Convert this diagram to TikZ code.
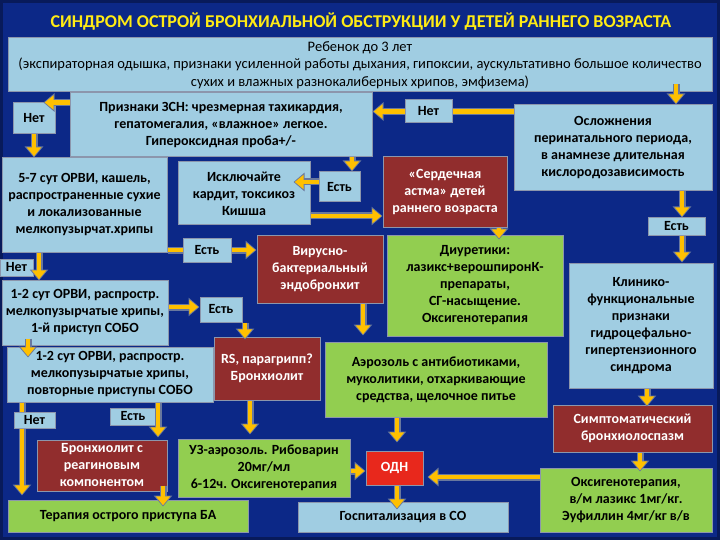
\documentclass[tikz,border=0pt]{standalone}
\usepackage{fontspec}
\setmainfont{Carlito}
\usetikzlibrary{arrows.meta,calc}
\definecolor{bg}{RGB}{12,40,135}
\definecolor{bgdark}{RGB}{8,26,90}
\definecolor{lb}{RGB}{160,205,226}
\definecolor{dr}{RGB}{145,45,45}
\definecolor{gr}{RGB}{146,206,80}
\definecolor{rd}{RGB}{232,40,28}
\definecolor{ay}{RGB}{255,192,0}
\definecolor{ae}{RGB}{105,120,158}
\definecolor{ttl}{RGB}{255,235,20}
\definecolor{edge}{RGB}{140,150,172}
\newcommand\mkbox[7]{\node[#2, minimum width={(#5-#3)*1pt}, minimum height={(#6-#4)*1pt}] (#1) at ({(#3+#5)/2},{(#4+#6)/2}) {#7};}
\begin{document}
\begin{tikzpicture}[x=1pt,y=-1pt,
 box/.style={draw=edge, line width=1pt, inner sep=0pt, align=center, font=\fontsize{14}{17}\selectfont\bfseries},
 lbox/.style={box, fill=lb, text=black},
 rbox/.style={box, fill=dr, text=white},
 gbox/.style={box, fill=gr, text=black},
 obox/.style={box, fill=rd, text=white},
 arr/.style={draw=ae, line width=7pt, -{Triangle[width=18pt,length=11pt]},
   postaction={draw=ay, line width=4.6pt, -{Triangle[width=14pt,length=9pt]}, shorten >=1.2pt}}]
\useasboundingbox (0,0) rectangle (720,540);
\fill[bg] (0,0) rectangle (720,540);
\draw[bgdark, line width=6pt] (0,0) rectangle (720,540);
% title
\node[font=\fontsize{18}{20}\selectfont\bfseries, text=ttl] (title) at (361,22) {СИНДРОМ ОСТРОЙ БРОНХИАЛЬНОЙ ОБСТРУКЦИИ У ДЕТЕЙ РАННЕГО ВОЗРАСТА};
% boxes
\mkbox{top}{lbox, font=\fontsize{14.5}{17.5}\selectfont}{8}{38}{712}{92}{Ребенок до 3 лет\\(экспираторная одышка, признаки усиленной работы дыхания, гипоксии, аускультативно большое количество\\сухих и влажных разнокалиберных хрипов, эмфизема)}
\mkbox{no1}{lbox}{13}{103}{55}{134}{Нет}
\mkbox{zsn}{lbox}{70}{93}{372}{157}{Признаки ЗСН: чрезмерная тахикардия,\\гепатомегалия, «влажное» легкое.\\Гипероксидная проба+/-}
\mkbox{osl}{lbox}{514}{105}{712}{191}{Осложнения\\перинатального периода,\\в анамнезе длительная\\кислородозависимость}
\mkbox{yes1}{lbox}{648}{218}{705}{235}{Есть}
\mkbox{s57}{lbox}{2}{158}{167}{252}{5-7 сут ОРВИ, кашель,\\распространенные сухие\\и локализованные\\мелкопузырчат.хрипы}
\mkbox{iskl}{lbox}{178}{162}{310}{225}{Исключайте\\кардит, токсикоз\\Кишша}
\mkbox{yes2}{lbox}{319}{172}{360}{202}{Есть}
\mkbox{serd}{rbox}{383}{157}{507}{228}{«Сердечная\\астма» детей\\раннего возраста}
\mkbox{diur}{gbox}{387}{235}{563}{336}{Диуретики:\\лазикс+верошпиронК-\\препараты,\\СГ-насыщение.\\Оксигенотерапия}
\mkbox{vir}{rbox}{257}{235}{383}{303}{Вирусно-\\бактериальный\\эндобронхит}
\mkbox{no3}{lbox}{0}{259}{33}{276}{Нет}
\mkbox{s12a}{lbox}{2}{280}{168}{345}{1-2 сут ОРВИ, распростр.\\мелкопузырчатые хрипы,\\1-й приступ СОБО}
\mkbox{yes4}{lbox}{200}{297}{242}{322}{Есть}
\mkbox{s12b}{lbox}{7}{347}{213}{402}{1-2 сут ОРВИ, распростр.\\мелкопузырчатые хрипы,\\повторные приступы СОБО}
\mkbox{rs}{rbox}{214}{337}{320}{400}{RS, парагрипп?\\Бронхиолит}
\mkbox{aer}{gbox}{325}{342}{547}{417}{Аэрозоль с антибиотиками,\\муколитики, отхаркивающие\\средства, щелочное питье}
\mkbox{klin}{lbox}{569}{263}{713}{388}{Клинико-\\функциональные\\признаки\\гидроцефально-\\гипертензионного\\синдрома}
\mkbox{symp}{rbox}{553}{405}{712}{452}{Симптоматический\\бронхиолоспазм}
\mkbox{oxy}{gbox}{540}{468}{712}{532}{Оксигенотерапия,\\в/м лазикс 1мг/кг.\\Эуфиллин 4мг/кг в/в}
\mkbox{odn}{obox}{366}{451}{423}{485}{ОДН}
\mkbox{gosp}{lbox}{298}{502}{508}{532}{Госпитализация в СО}
\mkbox{uz}{gbox}{178}{439}{350}{497}{УЗ-аэрозоль. Рибоварин\\20мг/мл\\6-12ч. Оксигенотерапия}
\mkbox{bron}{rbox}{37}{440}{167}{491}{Бронхиолит с\\реагиновым\\компонентом}
\mkbox{ter}{gbox}{8}{500}{248}{532}{Терапия острого приступа БА}
\mkbox{yes5}{lbox}{110}{408}{156}{425}{Есть}
% connectors
\coordinate (c1) at ($(no1.north east)+(-12,0)$);
\draw[arr] (zsn.west |- c1) -- (c1);
\draw[arr] (no1.south) -- (no1.south |- s57.north);
\coordinate (c3) at (428.5,111.5);
\draw[arr] (osl.west |- c3) -- (zsn.east |- c3);
\coordinate (c4) at (676,0);
\draw[arr] ($(top.south -| c4)+(0,-8)$) -- (osl.north -| c4);
\coordinate (c5) at (682,0);
\draw[arr] (osl.south -| c5) -- (yes1.north -| c5);
\draw[arr] (yes1.south -| c5) -- (klin.north -| c5);
\coordinate (c7) at (352,0);
\draw[arr] (zsn.south -| c7) -- (yes2.north -| c7);
\coordinate (c8) at (0,182);
\draw[arr] (yes2.west |- c8) -- ($(iskl.east |- c8)+(-17,0)$);
\coordinate (c9) at (0,216);
\draw[arr] (iskl.east |- c9) -- (serd.west |- c9);
\coordinate (c10) at (499,0);
\draw[arr] (serd.south -| c10) -- ($(diur.north -| c10)+(0,5)$);
\coordinate (c11) at (207,250);
\draw[arr] (s57.east |- c11) -- (vir.west |- c11);
\coordinate (c12) at (39,0);
\draw[arr] (s57.south -| c12) -- ($(s12a.north -| c12)+(0,1)$);
\coordinate (c13) at (363,0);
\draw[arr] (vir.south -| c13) -- ($(aer.north -| c13)+(0,-6)$);
\coordinate (c14) at (0,307);
\draw[arr] (s12a.east |- c14) -- (yes4.west |- c14);
\coordinate (c15) at (245,0);
\draw[arr] (yes4.south -| c15) -- ($(rs.north -| c15)+(0,3)$);
\coordinate (c16) at (28,0);
\draw[arr] ($(s12a.south -| c16)+(0,-7)$) -- ($(s12b.north -| c16)+(0,11)$);
\coordinate (c17) at (250,0);
\draw[arr] (rs.south -| c17) -- ($(uz.north -| c17)+(0,-4)$);
\coordinate (c18) at (397,0);
\draw[arr] (aer.south -| c18) -- ($(odn.north -| c18)+(0,-8)$);
\coordinate (c19) at (647,0);
\draw[arr] (klin.south -| c19) -- ($(symp.north -| c19)+(0,2)$);
\coordinate (c20) at (640,0);
\draw[arr] (symp.south -| c20) -- ($(oxy.north -| c20)+(0,4)$);
\coordinate (c21) at (0,477);
\draw[arr] (oxy.west |- c21) -- ($(odn.east |- c21)+(4,0)$);
\coordinate (c22) at (0,471);
\draw[arr] (uz.east |- c22) -- (odn.west |- c22);
\draw[arr] (odn.south -| c18) -- ($(gosp.north -| c18)+(0,8)$);
\coordinate (c24) at (22,0);
\draw[arr] (s12b.south -| c24) -- ($(ter.north -| c24)+(0,-4)$);
\coordinate (c25) at (158,0);
\draw[arr] (s12b.south -| c25) -- ($(bron.north -| c25)+(0,-2)$);
\coordinate (c26) at (163,0);
\draw[arr] ($(bron.south -| c26)+(0,-6)$) -- ($(ter.north -| c26)+(0,7)$);
% labels lying on connectors
\node[lbox, minimum width=47pt, minimum height=23pt] (no2) at (c3) {Нет};
\node[lbox, minimum width=48pt, minimum height=24pt] (yes3) at (c11) {Есть};
\mkbox{no4}{lbox}{14}{412}{55}{428}{Нет}
\end{tikzpicture}
\end{document}
